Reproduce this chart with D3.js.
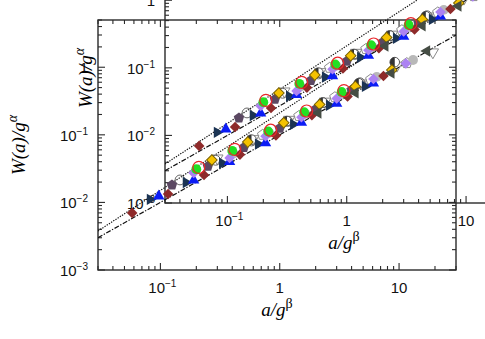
<!DOCTYPE html>
<meta charset="utf-8">
<html>
<body style="margin:0;background:#fff">
<svg id="chart" width="485" height="339"></svg>
<script src="https://d3js.org/d3.v7.min.js"></script>
<script>
// axis tick labels
var xTickVals = [0.1, 1, 10]
var xTickText = [["10", "\u22121"], ["1", ""], ["10", ""]]
var yTickVals = [0.001, 0.01, 0.1, 1]
var yTickText = [["10", "\u22123"], ["10", "\u22122"], ["10", "\u22121"], ["1", ""]]

// fit lines (end points at a = 0.03 and a = 30)
var fitA = [0.03, 30]
var dashDotW = [0.003, 3]
var dottedW = [0.00378, 10.5]

// data series, a/g^beta and W(a)/g^alpha
var redDiaA = [0.058, 0.116, 0.232, 0.464, 0.93, 1.86, 3.7, 7.4]
var redDiaW = [0.0070, 0.0133, 0.0255, 0.051, 0.098, 0.195, 0.37, 0.74]
var navyTriA = [0.082, 0.164, 0.33, 0.66, 1.3, 2.6, 5.2]
var navyTriW = [0.0111, 0.0197, 0.038, 0.073, 0.143, 0.273, 0.52]
var blueTriA = [0.097, 0.19, 0.38, 0.76, 1.52, 3.0, 6.1]
var blueTriW = [0.0124, 0.0213, 0.040, 0.076, 0.152, 0.291, 0.58]
var pentA = [0.125, 0.25, 0.5, 1.0, 2.0, 4.0]
var pentW = [0.0181, 0.0343, 0.065, 0.125, 0.24, 0.46]
var openCircA = [0.146, 0.29, 0.58, 1.17, 2.3, 4.7]
var openCircW = [0.0215, 0.042, 0.081, 0.158, 0.30, 0.59]
var lilacA = [0.19, 0.38, 0.76, 1.52, 3.0, 6.1, 11.4]
var lilacW = [0.0272, 0.0456, 0.095, 0.182, 0.345, 0.67, 1.14]
var greenA = [0.2, 0.4, 0.8, 1.6, 3.3]
var greenW = [0.031, 0.058, 0.112, 0.216, 0.43]
var ringA = [0.21, 0.42, 0.84, 1.68, 3.45]
var ringW = [0.033, 0.061, 0.117, 0.225, 0.45]
var goldA = [0.27, 0.54, 1.08, 2.16, 4.3, 8.7]
var goldW = [0.0424, 0.078, 0.151, 0.281, 0.52, 0.91]
var grayA = [0.41, 0.82, 1.64, 3.3, 6.5, 13.1]
var grayW = [0.053, 0.107, 0.205, 0.40, 0.72, 1.28]
var openTriA = [0.3, 0.6, 1.2, 2.4, 4.8, 9.6, 19.2]
var openTriW = [0.045, 0.087, 0.168, 0.312, 0.58, 1.06, 1.67]
var darkTriA = [2.1, 4.3, 8.6, 17.1]
var darkTriW = [0.21, 0.42, 0.82, 1.74]
var openPentA = [0.72, 1.45, 2.9, 5.8, 11.6]
var openPentW = [0.10, 0.19, 0.36, 0.66, 1.15]
var halfA = [0.58, 1.15, 2.3, 4.6, 9.2]
var halfW = [0.085, 0.16, 0.30, 0.58, 1.19]

var series = [
  {a: openPentA, w: openPentW, shape: "pent", fill: "none", stroke: "#8a8a8a"},
  {a: openTriA, w: openTriW, shape: "triDown", fill: "none", stroke: "#8a8a8a"},
  {a: grayA, w: grayW, shape: "circle", fill: "#b8b8b8", stroke: "none"},
  {a: openCircA, w: openCircW, shape: "circle", fill: "none", stroke: "#666"},
  {a: halfA, w: halfW, shape: "half", fill: "#333", stroke: "#555"},
  {a: pentA, w: pentW, shape: "pent", fill: "#5b4862", stroke: "none"},
  {a: redDiaA, w: redDiaW, shape: "diamond", fill: "#8e2a2a", stroke: "none"},
  {a: navyTriA, w: navyTriW, shape: "triRight", fill: "#1b3454", stroke: "none"},
  {a: blueTriA, w: blueTriW, shape: "triUp", fill: "#0b1cf5", stroke: "none"},
  {a: lilacA, w: lilacW, shape: "diamond", fill: "#ac82f2", stroke: "none"},
  {a: goldA, w: goldW, shape: "diamond", fill: "#f5c200", stroke: "#7a6200"},
  {a: darkTriA, w: darkTriW, shape: "triLeft", fill: "#454d44", stroke: "none"},
  {a: greenA, w: greenW, shape: "circle", fill: "#22e022", stroke: "none"},
  {a: ringA, w: ringW, shape: "ring", fill: "none", stroke: "#e8262a"}
]

var svg = d3.select("#chart")
var W = 358, H = 250
var x = d3.scaleLog().domain([0.03, 30]).range([0, W])
var y = d3.scaleLog().domain([0.001, 5]).range([H, 0])

// two copies of the panel, the second one shifted
var offsets = [[98, 20], [165, -47]]

function isMajor(v) {
  var l = Math.log10(v)
  return Math.abs(l - Math.round(l)) < 1e-6
}

function drawAxes(g, idx) {
  g.append("rect")
    .attr("width", W).attr("height", H)
    .attr("fill", "none").attr("stroke", "#2a2a2a").attr("stroke-width", 1.4)

  var xt = x.ticks()
  var yt = y.ticks()
  var ticks = g.append("g").attr("stroke", "#2a2a2a").attr("stroke-width", 1.1)
  xt.forEach(function (v) {
    var len = isMajor(v) ? 7 : 4
    ticks.append("line").attr("x1", x(v)).attr("x2", x(v)).attr("y1", H).attr("y2", H - len)
    ticks.append("line").attr("x1", x(v)).attr("x2", x(v)).attr("y1", 0).attr("y2", len)
  })
  yt.forEach(function (v) {
    var len = isMajor(v) ? 7 : 4
    ticks.append("line").attr("y1", y(v)).attr("y2", y(v)).attr("x1", 0).attr("x2", len)
    ticks.append("line").attr("y1", y(v)).attr("y2", y(v)).attr("x1", W).attr("x2", W - len)
  })

  var font = "'Liberation Sans', Arial, sans-serif"
  xTickVals.forEach(function (v, i) {
    var t = g.append("text")
      .attr("x", x(v) + (xTickText[i][1] ? 2 : 0)).attr("y", H + 23)
      .attr("text-anchor", "middle")
      .style("font-family", font).style("font-size", "15px").style("fill", "#111")
    t.append("tspan").text(xTickText[i][0])
    if (xTickText[i][1]) t.append("tspan").attr("dy", -6).style("font-size", "10px").text(xTickText[i][1])
  })
  yTickVals.forEach(function (v, i) {
    var t = g.append("text")
      .attr("x", -10).attr("y", y(v) + 6)
      .attr("text-anchor", "end")
      .style("font-family", font).style("font-size", "15px").style("fill", "#111")
    t.append("tspan").text(yTickText[i][0])
    if (yTickText[i][1]) t.append("tspan").attr("dy", -6).style("font-size", "10px").text(yTickText[i][1])
  })

  var serif = "'Liberation Serif', 'Times New Roman', serif"
  var xl = g.append("text")
    .attr("x", W / 2).attr("y", H + 46)
    .attr("text-anchor", "middle")
    .style("font-family", serif).style("font-size", "19px").style("font-style", "italic")
  xl.append("tspan").text("a/g")
  xl.append("tspan").attr("dy", -8).style("font-size", "14px").style("font-style", "normal").text("\u03b2")

  var yl = g.append("text")
    .attr("transform", "translate(-73," + (H / 2) + ") rotate(-90)")
    .attr("text-anchor", "middle")
    .style("font-family", serif).style("font-size", "19px").style("font-style", "italic")
  yl.append("tspan").text("W(a)/g")
  yl.append("tspan").attr("dy", -8).style("font-size", "14px").text("\u03b1")
}

function markerPath(shape) {
  if (shape === "diamond") return d3.symbol(d3.symbolSquare, 56)()
  if (shape.indexOf("tri") === 0) return d3.symbol(d3.symbolTriangle, 56)()
  if (shape === "pent") {
    var pts = d3.range(5).map(function (k) {
      var ang = -Math.PI / 2 + k * 2 * Math.PI / 5
      return [5.5 * Math.cos(ang), 5.5 * Math.sin(ang)]
    })
    return "M" + pts.join("L") + "Z"
  }
  return null
}
var rot = {diamond: 45, triUp: 0, triDown: 180, triRight: 90, triLeft: -90, pent: 0}

function drawData(g, idx) {
  g.append("clipPath").attr("id", "clip" + idx)
    .append("rect").attr("width", W).attr("height", H)

  var lineGen = d3.line().x(function (d) { return x(d[0]) }).y(function (d) { return y(d[1]) })
  var lines = g.append("g").attr("clip-path", "url(#clip" + idx + ")")
  lines.append("path")
    .attr("d", lineGen(d3.zip(fitA, dottedW)))
    .attr("fill", "none").attr("stroke", "#111").attr("stroke-width", 1.2)
    .attr("stroke-dasharray", "1.3,1.3")
  lines.append("path")
    .attr("d", lineGen(d3.zip(fitA, dashDotW)))
    .attr("fill", "none").attr("stroke", "#111").attr("stroke-width", 1.2)
    .attr("stroke-dasharray", "5,1.6,1.3,1.6")

  series.forEach(function (s) {
    var pts = d3.zip(s.a, s.w)
    var sel = g.append("g").selectAll("g").data(pts).enter().append("g")
      .attr("transform", function (d) { return "translate(" + x(d[0]) + "," + y(d[1]) + ")" })
    if (s.shape === "circle") {
      sel.append("circle").attr("r", 4.9)
        .attr("fill", s.fill).attr("stroke", s.stroke).attr("stroke-width", 1)
    } else if (s.shape === "ring") {
      sel.append("circle").attr("r", 6)
        .attr("fill", "none").attr("stroke", s.stroke).attr("stroke-width", 1.2)
    } else if (s.shape === "half") {
      sel.append("circle").attr("r", 4.8).attr("fill", "#fff").attr("stroke", s.stroke).attr("stroke-width", 1)
      sel.append("path").attr("d", "M0,-4.8A4.8,4.8 0 0 0 0,4.8Z").attr("fill", s.fill)
    } else {
      sel.append("path").attr("d", markerPath(s.shape))
        .attr("transform", "rotate(" + rot[s.shape] + ")")
        .attr("fill", s.fill).attr("stroke", s.stroke)
        .attr("stroke-width", s.stroke === "none" ? 0 : 1)
    }
  })
}

var panels = offsets.map(function (o) {
  return svg.append("g").attr("transform", "translate(" + o[0] + "," + o[1] + ")")
})
panels.forEach(function (g, i) { drawAxes(g, i) })
var dataLayers = offsets.map(function (o) {
  return svg.append("g").attr("transform", "translate(" + o[0] + "," + o[1] + ")")
})
dataLayers.forEach(function (g, i) { drawData(g, i) })
</script>
</body>
</html>
